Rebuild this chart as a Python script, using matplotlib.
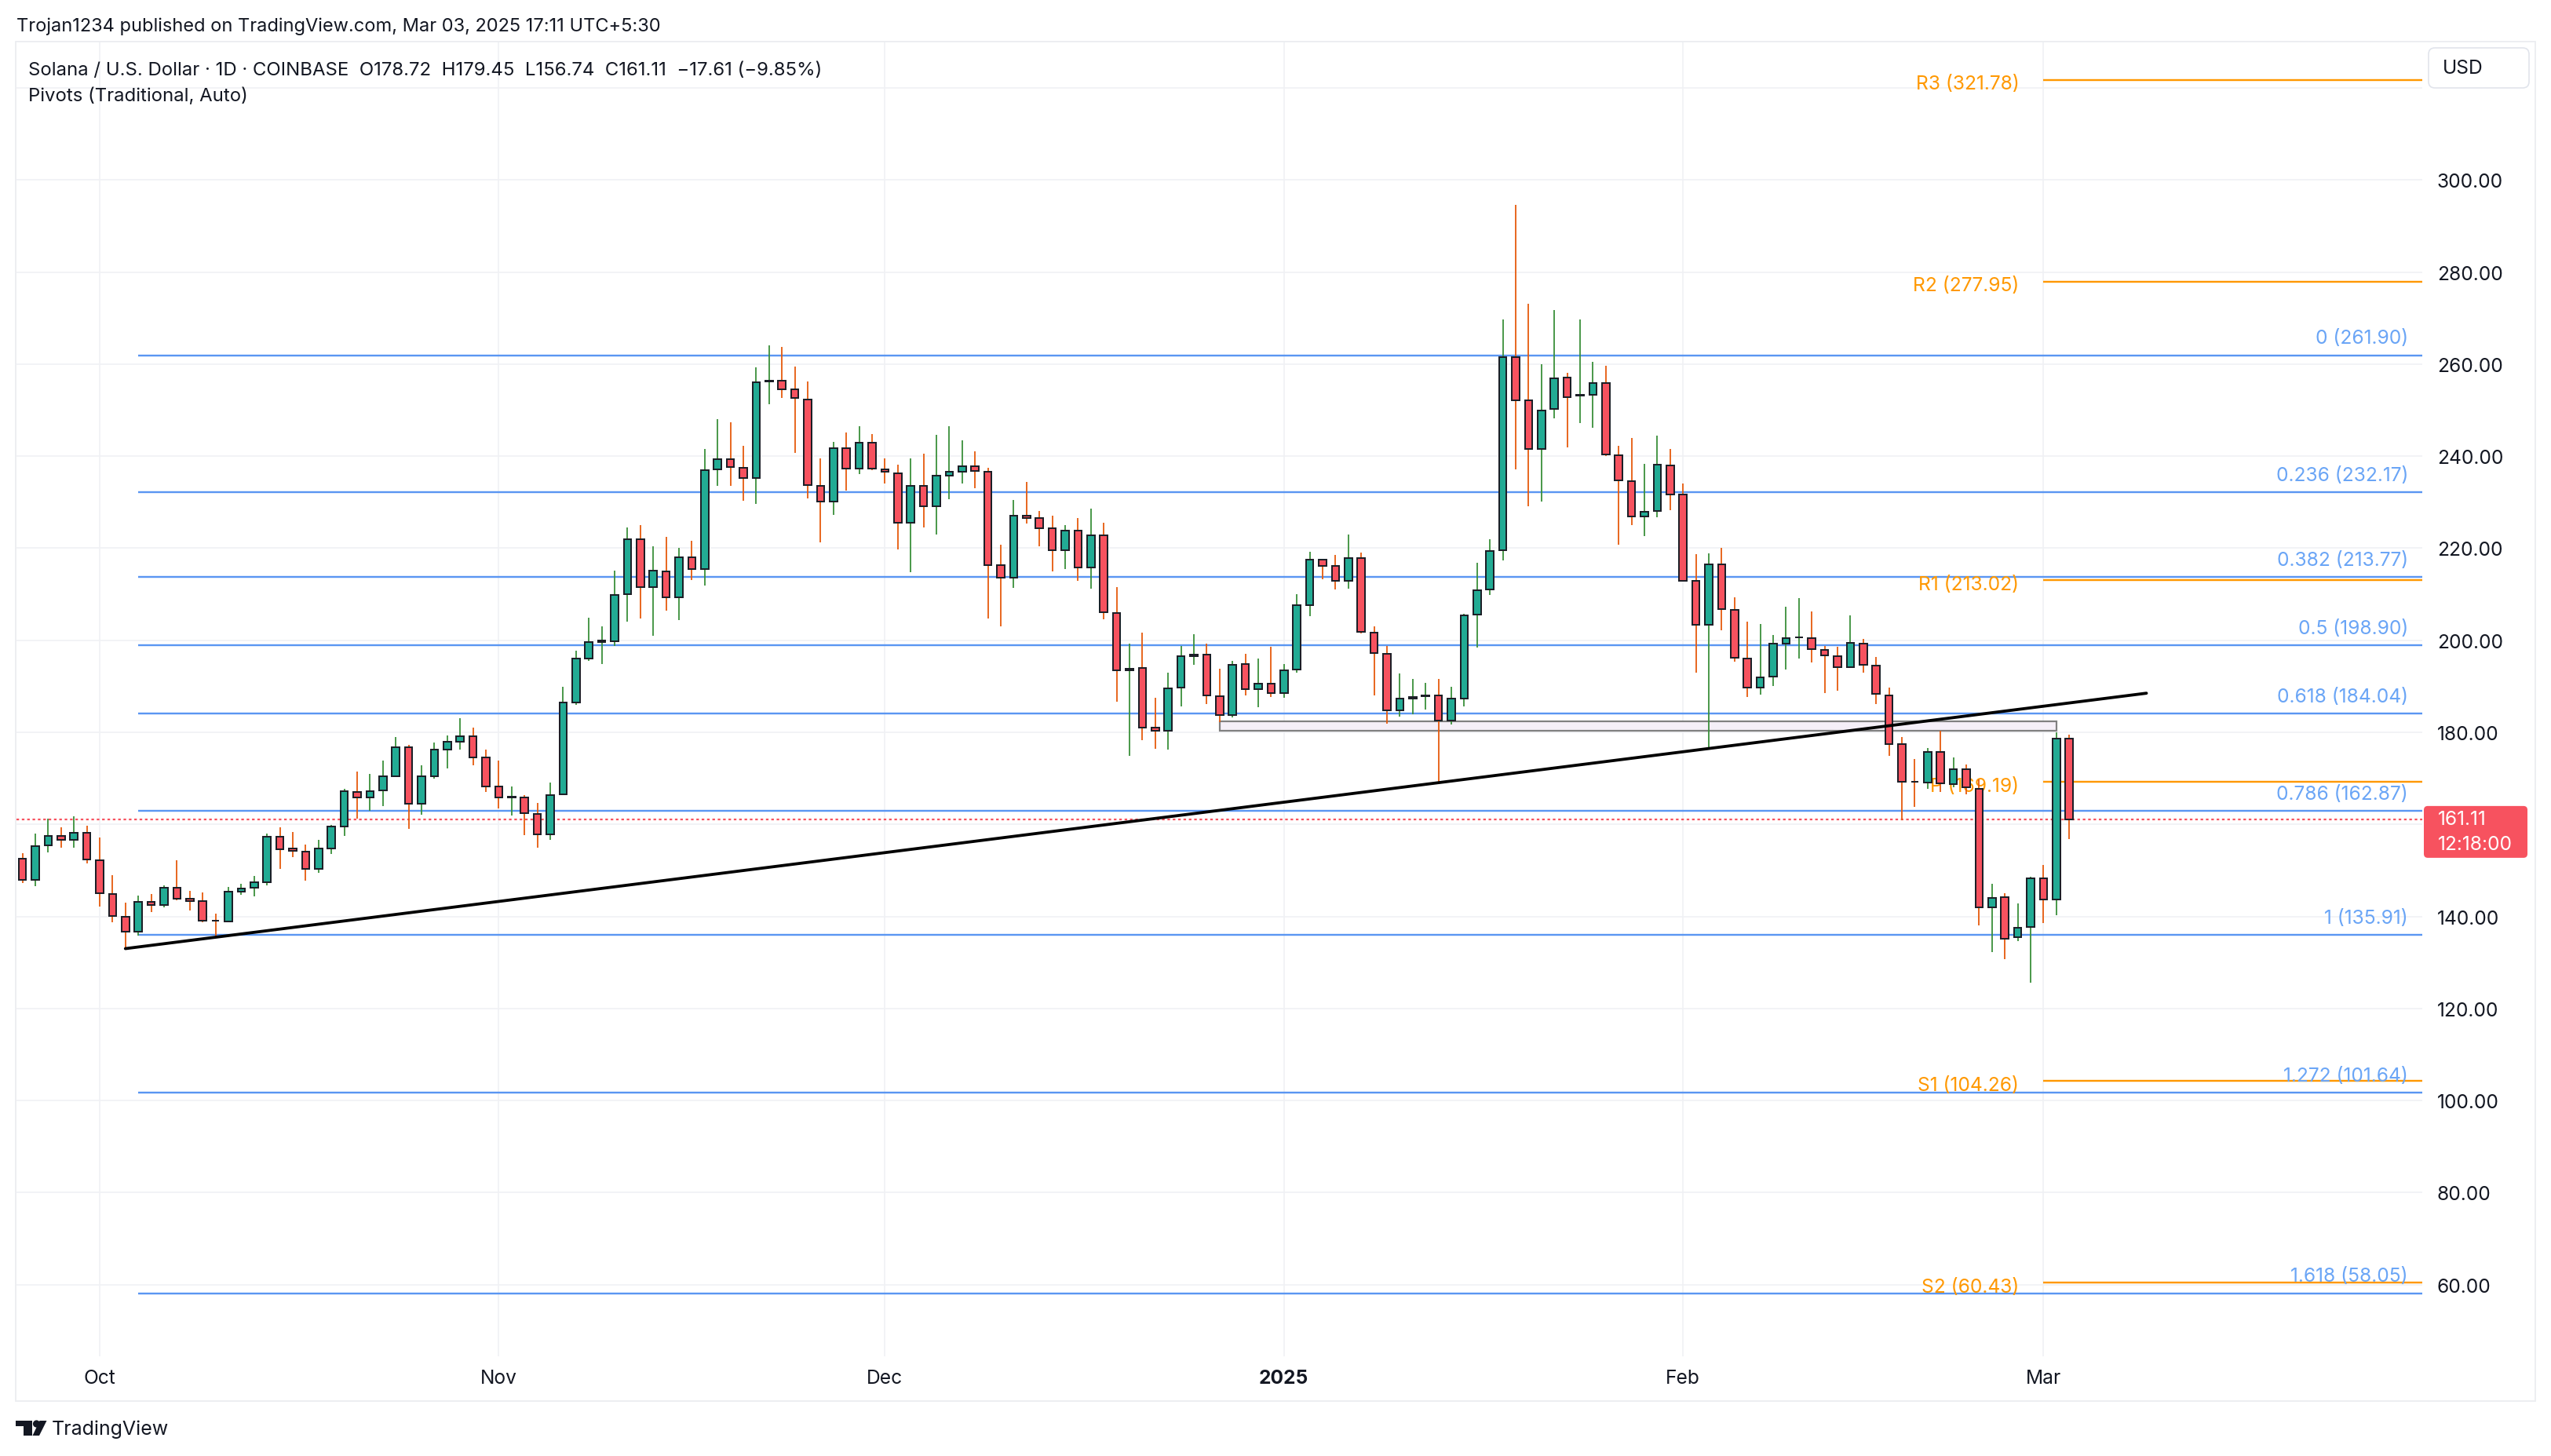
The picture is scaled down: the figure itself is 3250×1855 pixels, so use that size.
import numpy as np
import pandas as pd
import matplotlib
matplotlib.use("Agg")
import matplotlib.pyplot as plt
from matplotlib.patches import Rectangle, FancyBboxPatch, Circle, Polygon

plt.rcParams['font.family'] = ['Inter', 'DejaVu Sans']

# ---------------- data (SOL/USD, 1D, Coinbase) ----------------
start_date = "2024-09-25"
opens = [152.6, 147.9, 155.4, 157.5, 156.6, 158.2, 152.2, 144.9, 140.0, 136.7,
         143.1, 142.5, 146.3, 143.9, 143.3, 139.1, 138.9, 145.3, 146.2, 147.5,
         157.3, 154.7, 154.1, 150.3, 154.8, 159.6, 167.1, 165.9, 167.3, 170.4,
         176.7, 164.4, 170.5, 176.2, 178.0, 179.1, 174.5, 168.2, 165.9, 165.8,
         162.3, 157.9, 166.5, 186.4, 196.1, 199.6, 199.8, 210.0, 221.9, 211.6,
         215.0, 209.3, 218.0, 215.5, 237.1, 239.3, 237.5, 235.3, 256.2, 256.5,
         254.5, 252.4, 233.5, 230.2, 241.7, 237.3, 242.9, 237.1, 236.3, 225.5,
         233.5, 229.1, 235.7, 236.7, 237.9, 236.7, 216.3, 213.6, 227.0, 226.6,
         224.3, 219.6, 223.8, 215.9, 222.8, 206.0, 193.5, 194.0, 181.1, 180.3,
         189.7, 196.6, 196.9, 187.9, 183.8, 194.9, 189.4, 190.6, 188.6, 193.6,
         207.6, 217.5, 216.1, 213.0, 217.8, 201.7, 197.1, 184.8, 187.3, 187.8,
         188.1, 182.6, 187.4, 205.6, 211.0, 219.6, 261.6, 252.1, 241.5, 250.2,
         257.1, 253.1, 253.3, 255.9, 240.2, 234.5, 226.9, 228.1, 238.0, 231.6,
         212.9, 203.4, 216.5, 206.6, 196.0, 189.7, 192.1, 199.3, 200.6, 200.4,
         197.9, 196.6, 194.2, 199.3, 194.5, 188.1, 177.4, 169.3, 169.0, 175.8,
         168.8, 171.9, 167.8, 142.0, 144.2, 135.4, 137.7, 148.2, 143.7, 178.72]
highs = [153.8, 158.0, 161.2, 159.3, 161.7, 159.7, 157.2, 149.0, 143.0, 144.5,
         144.9, 146.8, 152.2, 145.6, 145.2, 140.6, 146.4, 147.1, 148.8, 158.0,
         159.3, 158.3, 155.6, 156.6, 159.8, 167.8, 171.4, 170.9, 173.8, 178.9,
         177.3, 172.9, 177.8, 179.4, 183.1, 181.1, 176.3, 173.8, 168.3, 166.4,
         164.7, 169.1, 189.9, 197.8, 204.9, 203.1, 215.2, 224.6, 225.0, 220.5,
         222.5, 220.0, 221.6, 241.5, 248.0, 247.4, 242.2, 259.3, 264.1, 263.8,
         259.5, 256.3, 239.5, 243.1, 245.1, 246.5, 244.9, 239.5, 238.2, 239.6,
         240.6, 244.6, 246.6, 243.4, 241.1, 237.5, 220.8, 230.5, 234.4, 228.1,
         227.1, 225.1, 226.6, 228.6, 225.6, 211.6, 199.2, 201.7, 187.5, 192.9,
         198.7, 201.4, 199.2, 193.8, 195.5, 197.0, 196.0, 198.6, 194.8, 210.0,
         219.3, 217.7, 218.6, 222.9, 219.0, 203.0, 198.7, 192.8, 191.6, 190.8,
         191.6, 189.9, 205.8, 216.9, 221.9, 269.7, 294.7, 273.1, 260.0, 271.7,
         258.1, 269.7, 260.5, 259.6, 242.3, 243.9, 238.3, 244.5, 241.6, 234.0,
         218.8, 218.9, 220.1, 209.4, 204.0, 203.6, 201.1, 207.3, 209.2, 206.3,
         198.7, 198.6, 205.4, 200.3, 196.3, 189.7, 179.0, 174.2, 176.6, 180.4,
         174.5, 173.0, 169.7, 147.0, 145.0, 142.8, 148.7, 151.2, 180.0, 179.45]
lows = [147.3, 146.5, 153.9, 154.9, 154.9, 151.6, 142.2, 138.7, 133.0, 135.9,
        141.0, 142.0, 143.5, 141.2, 138.7, 135.5, 138.7, 144.7, 144.4, 146.8,
        150.3, 152.8, 147.7, 149.5, 153.5, 157.5, 161.2, 162.9, 164.0, 170.3,
        159.1, 162.1, 169.9, 172.1, 176.2, 172.9, 167.1, 163.4, 161.9, 157.7,
        154.9, 156.7, 166.4, 186.0, 195.6, 194.9, 198.8, 204.1, 204.7, 200.9,
        206.5, 204.4, 213.1, 211.9, 233.6, 233.5, 230.4, 229.7, 251.3, 252.7,
        240.8, 230.9, 221.2, 227.2, 232.6, 236.2, 237.0, 234.0, 219.7, 214.8,
        224.5, 223.0, 230.7, 234.0, 233.0, 204.8, 203.1, 211.4, 225.3, 220.4,
        214.9, 215.4, 212.9, 211.2, 204.6, 186.6, 174.9, 178.3, 176.5, 176.2,
        185.7, 194.7, 186.2, 182.3, 183.3, 188.1, 185.4, 187.6, 187.5, 192.9,
        205.3, 213.3, 211.1, 211.2, 201.5, 188.1, 181.8, 183.4, 183.9, 184.9,
        169.1, 181.7, 185.6, 198.4, 209.8, 217.3, 237.2, 229.2, 230.1, 248.2,
        241.9, 247.2, 246.2, 240.0, 220.8, 225.0, 222.7, 226.8, 228.2, 212.7,
        192.9, 176.4, 202.2, 195.3, 187.7, 188.2, 190.0, 193.7, 196.0, 195.1,
        188.6, 189.0, 194.0, 192.9, 186.1, 174.8, 160.9, 163.8, 167.7, 167.0,
        168.0, 166.6, 138.0, 132.2, 130.7, 134.7, 125.6, 138.6, 140.2, 156.74]
closes = [147.9, 155.3, 157.5, 156.6, 158.2, 152.3, 145.1, 140.1, 136.7, 143.1,
          142.5, 146.3, 143.9, 143.3, 139.1, 139.0, 145.3, 146.1, 147.5, 157.3,
          154.6, 154.2, 150.3, 154.8, 159.6, 167.2, 165.9, 167.2, 170.4, 176.7,
          164.4, 170.4, 176.2, 177.9, 179.1, 174.6, 168.3, 165.9, 166.0, 162.4,
          157.9, 166.3, 186.4, 196.1, 199.6, 199.9, 209.9, 221.9, 211.5, 215.1,
          209.3, 218.1, 215.5, 237.0, 239.3, 237.6, 235.3, 256.1, 256.4, 254.6,
          252.6, 233.8, 230.2, 241.7, 237.3, 243.0, 237.3, 236.6, 225.5, 233.5,
          229.1, 235.7, 236.7, 237.9, 236.8, 216.4, 213.6, 227.0, 226.6, 224.3,
          219.5, 223.8, 215.9, 222.8, 206.1, 193.5, 193.9, 181.1, 180.3, 189.6,
          196.5, 196.9, 188.0, 183.8, 194.7, 189.4, 190.6, 188.6, 193.5, 207.6,
          217.5, 216.2, 213.0, 217.8, 201.8, 197.2, 184.8, 187.3, 187.7, 188.1,
          182.6, 187.3, 205.4, 210.8, 219.4, 261.6, 252.2, 241.5, 250.0, 256.9,
          252.9, 253.3, 255.9, 240.3, 234.7, 226.9, 227.9, 238.1, 231.7, 213.0,
          203.4, 216.5, 206.7, 196.2, 189.7, 191.9, 199.2, 200.4, 200.7, 198.0,
          196.8, 194.2, 199.4, 194.6, 188.3, 177.5, 169.2, 169.2, 175.8, 168.9,
          171.9, 168.0, 142.0, 144.0, 135.2, 137.6, 148.2, 143.7, 178.6, 161.11]

fib_ratios = ["0", "0.236", "0.382", "0.5", "0.618", "0.786", "1", "1.272", "1.618"]
fib_levels = [261.90, 232.17, 213.77, 198.90, 184.04, 162.87, 135.91, 101.64, 58.05]
fib_start = "2024-10-04"

pivot_names = ["R3", "R2", "R1", "P", "S1", "S2"]
pivot_levels = [321.78, 277.95, 213.02, 169.19, 104.26, 60.43]
pivot_start = "2025-03-01"

trend_dates = ["2024-10-03", "2025-03-09"]
trend_prices = [133.0, 188.5]

zone_dates = ["2024-12-27", "2025-03-02"]
zone_prices = [180.4, 182.4]

last_price = 161.11
countdown = "12:18:00"

y_ticks = [60, 80, 100, 120, 140, 160, 180, 200, 220, 240, 260, 280, 300]
y_hidden_labels = [160]          # covered by the last-price tag in the reference
y_grid_extra = [320]
month_labels = ["Oct", "Nov", "Dec", "2025", "Feb", "Mar"]

header_text = "Trojan1234 published on TradingView.com, Mar 03, 2025 17:11 UTC+5:30"
legend_text = ("Solana / U.S. Dollar \u00b7 1D \u00b7 COINBASE  O178.72  H179.45  "
               "L156.74  C161.11  \u221217.61 (\u22129.85%)")
indicator_text = "Pivots (Traditional, Auto)"

# ---------------- setup ----------------
W, H = 3250, 1856
DPI = 200
PX = 72.0 / DPI  # points per pixel
FS = 24.6 * PX   # chart label font size

dates = pd.date_range(start_date, periods=len(opens), freq="D")
idx = np.arange(len(dates))
t0 = pd.Timestamp(start_date)


def pos(d):
    return (pd.Timestamp(d) - t0).days


o = np.array(opens); h = np.array(highs); l = np.array(lows); c = np.array(closes)
up = c >= o

GREEN = "#22ab94"
RED = "#f7525f"
GWICK = "#3a8f3a"
RWICK = "#e65a0c"
EDGE = "#1c1f27"
BLUE = "#5a96f2"
BLUE_T = "#6aa5f6"
ORANGE = "#ff9800"
GRID = "#f0f1f4"
TXT = "#131722"

fig = plt.figure(figsize=(W / DPI, H / DPI), dpi=DPI)
fig.patch.set_facecolor("white")

L_PX, R_PX, T_PX, B_PX = 21, 3086, 54, 1729
ax = fig.add_axes([L_PX / W, 1 - B_PX / H, (R_PX - L_PX) / W, (B_PX - T_PX) / H])
XMAX = 186.43
ax.set_xlim(-0.46, XMAX)
ax.set_ylim(44.4, 330.1)
for s in ax.spines.values():
    s.set_visible(False)

# grid / ticks
ax.set_yticks(y_ticks)
ax.set_yticklabels(["" if v in y_hidden_labels else f"{v:.2f}" for v in y_ticks])
ax.yaxis.tick_right()
month_pos = [i for i, d in enumerate(dates) if d.day == 1]
ax.set_xticks(month_pos)
ax.set_xticklabels(month_labels)
ax.tick_params(axis="both", length=0, labelsize=FS, labelcolor=TXT)
ax.tick_params(axis="y", pad=19 * PX)
ax.tick_params(axis="x", pad=16 * PX)
for lab in ax.get_xticklabels():
    if lab.get_text() == "2025":
        lab.set_fontweight("bold")
ax.grid(True, color=GRID, lw=1.6 * PX, zorder=0)
ax.set_axisbelow(True)
for g in y_grid_extra:
    ax.axhline(g, color=GRID, lw=1.6 * PX, zorder=0)

# fib lines
fs = pos(fib_start)
for r, lv in zip(fib_ratios, fib_levels):
    ax.hlines(lv, fs, XMAX, color=BLUE, lw=2.4 * PX, zorder=1)
    ax.annotate(f"{r} ({lv:.2f})", xy=(1.0, lv), xycoords=("axes fraction", "data"),
                xytext=(-18 * PX, 22 * PX), textcoords="offset points",
                ha="right", va="center", color=BLUE_T, fontsize=FS, zorder=6)

# pivot lines
ps = pos(pivot_start)
for nm, lv in zip(pivot_names, pivot_levels):
    ax.hlines(lv, ps, XMAX, color=ORANGE, lw=2.4 * PX, zorder=1.5)
    ax.annotate(f"{nm} ({lv:.2f})", xy=(ps, lv), xycoords="data",
                xytext=(-31 * PX, -5 * PX), textcoords="offset points",
                ha="right", va="center", color=ORANGE, fontsize=FS, zorder=1.6)

# zone rectangle
z0, z1 = pos(zone_dates[0]), pos(zone_dates[1])
ax.add_patch(Rectangle((z0, zone_prices[0]), z1 - z0, zone_prices[1] - zone_prices[0],
                       facecolor="#f5eff8", edgecolor="#808080", lw=2.2 * PX, zorder=2))

# current price dotted line
ax.axhline(last_price, color=RED, lw=2.2 * PX, ls=(0, (1.5, 1.6)), zorder=2.5)

# candles
ax.vlines(idx, l, h, colors=np.where(up, GWICK, RWICK), lw=1.8 * PX, zorder=3)
ax.bar(idx, np.abs(c - o), bottom=np.minimum(o, c), width=0.58,
       color=np.where(up, GREEN, RED), edgecolor=EDGE, lw=2.0 * PX, zorder=4)

# trend line
ax.plot([pos(d) for d in trend_dates], trend_prices, color="black",
        lw=3.8 * PX, solid_capstyle="round", zorder=5)

# ---------------- overlay in pixel coords ----------------
ov = fig.add_axes([0, 0, 1, 1], facecolor="none")
ov.set_xlim(0, W)
ov.set_ylim(H, 0)
ov.axis("off")
ov.set_zorder(10)

# outer frame
ov.add_patch(Rectangle((19.5, 54), 3230 - 19.5, 1786 - 54, facecolor="none",
                       edgecolor="#ebedf0", lw=1.8 * PX))

# texts
ov.text(21, 34, header_text, fontsize=23.6 * PX, color=TXT, va="center", ha="left")
ov.text(36, 90, legend_text, fontsize=24 * PX, color=TXT, va="center", ha="left")
ov.text(36, 123, indicator_text, fontsize=24 * PX, color=TXT, va="center", ha="left")

# USD box
ov.add_patch(FancyBboxPatch((3094, 62), 128, 51, boxstyle="round,pad=0,rounding_size=8",
                            facecolor="white", edgecolor="#e0e3eb", lw=1.6 * PX))
ov.text(3112, 88, "USD", fontsize=FS, color=TXT, va="center", ha="left")

# price box
ypx = 230.7 + (300 - last_price) * 5.862
ov.add_patch(FancyBboxPatch((3088, ypx - 17), 132, 66, boxstyle="round,pad=0,rounding_size=5",
                            facecolor=RED, edgecolor="none"))
ov.text(3106, ypx, f"{last_price:.2f}", fontsize=FS, color="white", va="center", ha="left")
ov.text(3106, ypx + 32, countdown, fontsize=FS, color="white", va="center", ha="left")

# TradingView logo
ov.add_patch(Polygon([(19.5, 1811), (41, 1811), (41, 1830), (30, 1830), (30, 1818), (19.5, 1818)],
                     closed=True, facecolor=TXT, edgecolor="none"))
ov.add_patch(Circle((46.5, 1815), 4.6, facecolor=TXT, edgecolor="none"))
ov.add_patch(Polygon([(50.5, 1811), (59.5, 1811), (50, 1830), (41.5, 1830)],
                     closed=True, facecolor=TXT, edgecolor="none"))
ov.text(66, 1821, "TradingView", fontsize=25 * PX, color=TXT, va="center", ha="left")

fig.savefig("out.png", dpi=DPI)
